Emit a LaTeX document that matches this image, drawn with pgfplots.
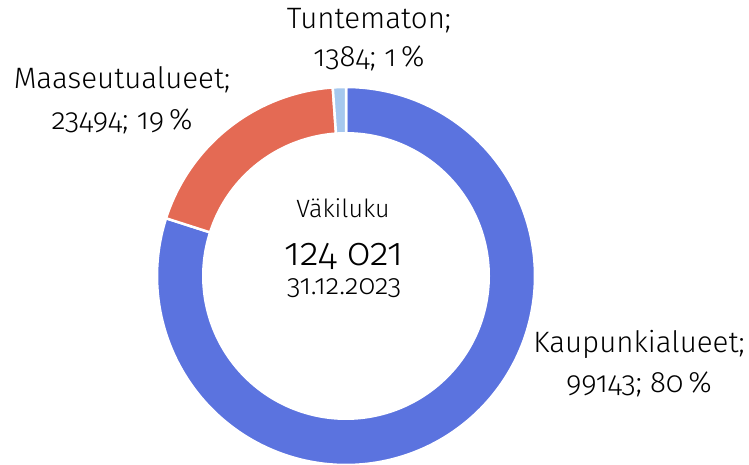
\documentclass[border=0pt]{standalone}
\usepackage{fontspec}
\setmainfont{Fira Sans Light}[Numbers=OldStyle]
\usepackage{pgfplots}
\pgfplotsset{compat=1.18}
\definecolor{kblue}{HTML}{5B73DF}
\definecolor{mred}{HTML}{E46A54}
\definecolor{tblue}{HTML}{A6C8EE}
% data
\def\vK{99143}\def\vM{23494}\def\vT{1384}
\edef\tot{\fpeval{\vK+\vM+\vT}}
\edef\aK{\fpeval{90-360*\vK/\tot}}
\edef\aM{\fpeval{\aK-360*\vM/\tot}}
\edef\aT{\fpeval{\aM-360*\vT/\tot}}
\begin{document}
\begin{tikzpicture}
\begin{axis}[x=1pt,y=1pt,xmin=0,xmax=749,ymin=0,ymax=464,hide axis,clip=false,scale only axis]
\addplot[fill=kblue,draw=white,line width=2.5pt,domain=\aK:90,samples=200,variable=\t] ({346+189*cos(\t)},{188+189*sin(\t)}) -- (axis cs:346,188) -- cycle;
\addplot[fill=mred,draw=white,line width=2.5pt,domain=\aM:\aK,samples=80,variable=\t] ({346+189*cos(\t)},{188+189*sin(\t)}) -- (axis cs:346,188) -- cycle;
\addplot[fill=tblue,draw=white,line width=2.5pt,domain=\aT:\aM,samples=10,variable=\t] ({346+189*cos(\t)},{188+189*sin(\t)}) -- (axis cs:346,188) -- cycle;
\addplot[fill=white,draw=none,domain=0:360,samples=240,variable=\t] ({346+144*cos(\t)},{188+144*sin(\t)}) -- cycle;
\tikzset{lbl/.style={anchor=base,inner sep=0pt,font=\fontsize{29.5}{29.5}\selectfont}}
\node[lbl] at (axis cs:369,435) {Tuntematon;};
\node[lbl] at (axis cs:369,397) {1384; 1\,\%};
\node[lbl] at (axis cs:122,375) {Maaseutualueet;};
\node[lbl] at (axis cs:122,334) {23494; 19\,\%};
\node[lbl] at (axis cs:639,112) {Kaupunkialueet;};
\node[lbl] at (axis cs:639,72) {99143; 80\,\%};
\node[anchor=base,inner sep=0pt,font=\fontsize{25}{25}\selectfont] at (axis cs:343,247) {Väkiluku};
\node[anchor=base,inner sep=0pt,font=\fontsize{39}{39}\selectfont] at (axis cs:344,199) {124 021};
\node[anchor=base,inner sep=0pt,font=\fontsize{28}{28}\selectfont] at (axis cs:344,170) {31.12.2023};
\end{axis}
\pgfresetboundingbox
\path (current axis.south west) rectangle (current axis.north east);
\end{tikzpicture}
\end{document}
